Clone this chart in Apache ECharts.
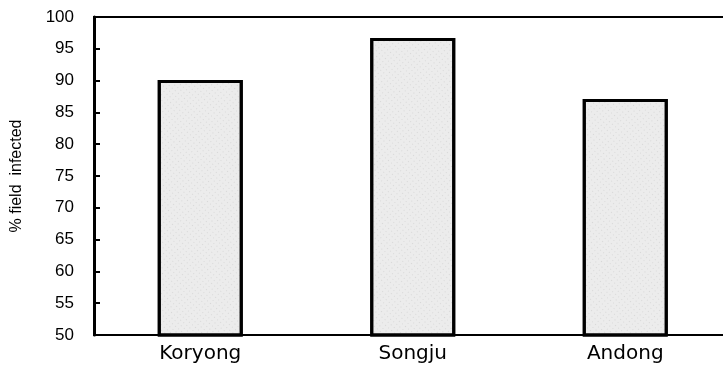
<!DOCTYPE html>
<html><head><meta charset="utf-8">
<script src="https://cdn.jsdelivr.net/npm/echarts@6/dist/echarts.min.js"></script>
<style>html,body{margin:0;padding:0;background:#fff}#c{width:723px;height:380px}</style>
</head><body><div id="c"></div>
<script>
const categories = ['Koryong', 'Songju', 'Andong'];
const infected = [90.1, 96.7, 87.1];
const yAxisTitle = '% field  infected';

const chart = echarts.init(document.getElementById('c'), null, {renderer: 'canvas'});
chart.setOption({
  animation: false,
  backgroundColor: '#fff',
  grid: {left: 94, top: 17, width: 637.5, height: 318, show: true, borderColor: '#000', borderWidth: 2,
    backgroundColor: 'transparent', containLabel: false, outerBoundsMode: 'none'},
  xAxis: {
    type: 'category', data: categories,
    axisLine: {lineStyle: {color: '#000', width: 2}},
    axisTick: {inside: true, length: 5, lineStyle: {color: '#000', width: 1}},
    axisLabel: {color: '#000', fontFamily: 'DejaVu Sans', fontSize: 20, margin: 9}
  },
  yAxis: {
    type: 'value', min: 50, max: 100, interval: 5,
    name: yAxisTitle, nameLocation: 'middle', nameGap: 69, nameRotate: 90,
    nameTextStyle: {color: '#000', fontFamily: 'Liberation Sans', fontSize: 16},
    axisLine: {show: true, lineStyle: {color: '#000', width: 3}},
    axisTick: {show: true, inside: true, length: 6, lineStyle: {color: '#000', width: 2}},
    splitLine: {show: false},
    axisLabel: {color: '#000', fontFamily: 'Liberation Sans', fontSize: 17, margin: 20}
  },
  series: [{
    type: 'bar', data: infected, barWidth: 85,
    itemStyle: {color: '#ececec', borderColor: '#000', borderWidth: 3,
      decal: {symbol: 'rect', symbolSize: 0.5, dashArrayX: [1, 3], dashArrayY: [1, 3], rotation: 0.7, color: 'rgba(0,0,0,0.35)'}}
  }]
});
</script></body></html>
